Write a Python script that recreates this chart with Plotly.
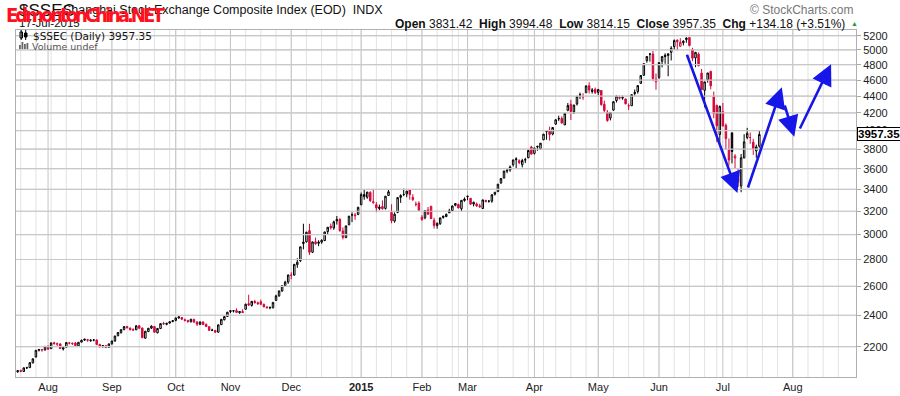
import math
import pandas as pd
import plotly.graph_objects as go

# ---------------- data ----------------
symbol = "$SSEC"
index_name = "Shanghai Stock Exchange Composite Index (EOD)"
exchange = "INDX"
last_date_label = "17-Jul-2015"
first_day = "2014-07-18"
last_calendar_day = "2015-09-04"
cn_holidays = ["2014-09-08", "2014-10-01", "2014-10-02", "2014-10-03", "2014-10-06",
               "2014-10-07", "2015-01-01", "2015-01-02", "2015-02-18", "2015-02-19",
               "2015-02-20", "2015-02-23", "2015-02-24", "2015-04-06", "2015-05-01",
               "2015-06-22"]

opens = [
    2052, 2060, 2054, 2074, 2076, 2104, 2138, 2178, 2180, 2180,
    2200, 2188, 2224, 2215, 2217, 2186, 2197, 2223, 2218, 2222, 2205, 2228, 2240, 2243, 2236, 2241, 2241, 2213, 2200, 2206, 2196,
    2218, 2234, 2268, 2287, 2307, 2326, 2316, 2308, 2305, 2331, 2316, 2252, 2294, 2316, 2326, 2286, 2313, 2346, 2340, 2348, 2358,
    2366, 2382, 2385, 2370, 2365, 2357, 2371, 2355, 2340, 2355, 2341, 2325, 2304, 2301, 2290, 2338, 2370, 2392,
    2424, 2428, 2431, 2416, 2425, 2440, 2478, 2466, 2493, 2484, 2491, 2473, 2454, 2449, 2450, 2500, 2532, 2566, 2605, 2631,
    2681, 2682, 2760, 2790, 2926, 2940, 3033, 2857, 2940, 2928, 2938, 2950, 3025, 3070, 3055, 3115, 3128, 3030, 2975, 3082, 3166, 3160, 3172,
    3258, 3330, 3327, 3371, 3276, 3259, 3224, 3242, 3224, 3343, 3189, 3114, 3190, 3325, 3352, 3357, 3396, 3325, 3260, 3273,
    3148, 3143, 3212, 3245, 3121, 3076, 3091, 3145, 3153, 3186, 3206, 3253, 3260, 3222, 3296,
    3332, 3317, 3264, 3264, 3248, 3224, 3297, 3290, 3290, 3354, 3378, 3462, 3509, 3576, 3587, 3640, 3700, 3680, 3640, 3686, 3710, 3822,
    3755, 3830, 3804, 3899, 3988, 4003, 3962, 4072, 4130, 4136, 4063, 4231, 4301, 4212, 4305, 4417, 4390, 4441, 4528, 4456, 4483,
    4445, 4469, 4303, 4210, 4141, 4233, 4346, 4383, 4384, 4365, 4284, 4284, 4431, 4455, 4558, 4660, 4854, 4943, 4943, 4578,
    4633, 4845, 4927, 4923, 4967, 5046, 5137, 5050, 5101, 5144, 5174, 5004, 4890, 4942, 4689, 4471, 4605, 4711, 4399, 4289, 3956,
    4214, 4058, 3793, 3975, 3707, 3467, 3432, 3707, 3924, 3924, 3874, 3781, 3831.42,
]
highs = [
    2062, 2064, 2076, 2081, 2107, 2130, 2179, 2186, 2186, 2203,
    2209, 2225, 2230, 2225, 2220, 2197, 2227, 2229, 2224, 2228, 2228, 2244, 2248, 2248, 2245, 2247, 2245, 2218, 2210, 2208, 2219,
    2236, 2267, 2290, 2307, 2327, 2330, 2320, 2314, 2333, 2334, 2320, 2298, 2317, 2334, 2330, 2316, 2346, 2357, 2350, 2360, 2367,
    2383, 2391, 2388, 2378, 2370, 2375, 2378, 2361, 2358, 2360, 2345, 2329, 2312, 2304, 2338, 2375, 2393, 2422,
    2434, 2433, 2446, 2428, 2440, 2478, 2540, 2496, 2504, 2492, 2506, 2479, 2462, 2459, 2488, 2540, 2568, 2605, 2640, 2684,
    2703, 2763, 2810, 2900, 3091, 3022, 3091, 2941, 2975, 2953, 2961, 3022, 3062, 3093, 3117, 3158, 3140, 3060, 3074, 3158, 3190, 3185, 3240,
    3370, 3394, 3375, 3382, 3404, 3283, 3260, 3298, 3337, 3400, 3262, 3190, 3327, 3353, 3406, 3384, 3398, 3355, 3286, 3289,
    3165, 3204, 3238, 3245, 3143, 3102, 3142, 3160, 3179, 3222, 3251, 3269, 3269, 3300, 3325,
    3336, 3317, 3286, 3278, 3267, 3302, 3303, 3301, 3356, 3374, 3449, 3508, 3577, 3600, 3632, 3689, 3715, 3694, 3700, 3710, 3795, 3835,
    3817, 3835, 3864, 3962, 4000, 4044, 4035, 4128, 4168, 4160, 4195, 4317, 4356, 4294, 4398, 4444, 4435, 4529, 4572, 4499, 4505,
    4489, 4470, 4346, 4233, 4206, 4335, 4401, 4406, 4406, 4371, 4311, 4419, 4481, 4530, 4658, 4814, 4911, 4959, 4986, 4684,
    4829, 4911, 4953, 4948, 5052, 5147, 5147, 5164, 5136, 5178, 5176, 5029, 4968, 4966, 4744, 4577, 4691, 4720, 4456, 4297, 4287,
    4318, 4080, 3914, 3975, 3748, 3601, 3749, 3960, 4030, 3979, 3910, 3847, 3994.48,
]
lows = [
    2047, 2050, 2052, 2068, 2074, 2100, 2135, 2171, 2170, 2177,
    2180, 2187, 2212, 2205, 2186, 2177, 2195, 2214, 2210, 2205, 2200, 2226, 2235, 2230, 2230, 2233, 2210, 2195, 2195, 2191, 2195,
    2212, 2232, 2264, 2281, 2302, 2313, 2300, 2298, 2304, 2312, 2254, 2250, 2290, 2310, 2288, 2283, 2310, 2338, 2334, 2345, 2354,
    2360, 2377, 2368, 2359, 2350, 2352, 2348, 2330, 2335, 2336, 2324, 2298, 2297, 2285, 2289, 2336, 2366, 2390,
    2414, 2418, 2416, 2410, 2416, 2438, 2462, 2458, 2478, 2470, 2468, 2454, 2444, 2440, 2446, 2498, 2526, 2562, 2596, 2618,
    2651, 2678, 2736, 2780, 2880, 2935, 2835, 2850, 2916, 2905, 2924, 2948, 3000, 3042, 3040, 3084, 3024, 2960, 2970, 3078, 3105, 3125, 3165,
    3254, 3303, 3312, 3285, 3267, 3191, 3209, 3214, 3215, 3340, 3095, 3100, 3183, 3275, 3336, 3326, 3304, 3292, 3243, 3203,
    3116, 3129, 3169, 3130, 3050, 3049, 3082, 3135, 3148, 3186, 3204, 3244, 3226, 3203, 3285,
    3299, 3258, 3243, 3238, 3230, 3223, 3280, 3277, 3276, 3342, 3377, 3450, 3503, 3555, 3569, 3621, 3600, 3645, 3612, 3656, 3706, 3742,
    3743, 3783, 3795, 3895, 3900, 3890, 3948, 4063, 4106, 4078, 4063, 4219, 4119, 4187, 4288, 4364, 4355, 4441, 4432, 4431, 4426,
    4414, 4284, 4206, 4099, 4114, 4224, 4323, 4360, 4356, 4300, 4233, 4283, 4406, 4430, 4552, 4660, 4826, 4840, 4586, 4478,
    4616, 4764, 4812, 4648, 4856, 5000, 4993, 5048, 5062, 5100, 5048, 4846, 4767, 4780, 4476, 4265, 4567, 4483, 4139, 3875, 3848,
    4043, 3795, 3630, 3653, 3601, 3421, 3373, 3707, 3905, 3857, 3740, 3709, 3814.15,
]
closes = [
    2059, 2055, 2075, 2076, 2105, 2127, 2178, 2183, 2182, 2202,
    2186, 2223, 2219, 2218, 2189, 2194, 2225, 2222, 2221, 2207, 2227, 2239, 2246, 2240, 2240, 2241, 2213, 2199, 2207, 2195, 2217,
    2235, 2266, 2288, 2306, 2326, 2319, 2307, 2304, 2331, 2315, 2255, 2296, 2315, 2329, 2290, 2314, 2345, 2343, 2347, 2357, 2364,
    2382, 2389, 2374, 2366, 2359, 2374, 2356, 2341, 2356, 2339, 2326, 2302, 2302, 2290, 2337, 2373, 2391, 2420,
    2430, 2430, 2419, 2425, 2418, 2474, 2469, 2494, 2485, 2478, 2474, 2456, 2451, 2452, 2487, 2532, 2567, 2604, 2630, 2683,
    2680, 2763, 2779, 2900, 2938, 3020, 2856, 2940, 2925, 2938, 2953, 3022, 3061, 3057, 3108, 3128, 3032, 2977, 3073, 3157, 3168, 3166, 3235,
    3351, 3352, 3374, 3294, 3285, 3229, 3236, 3222, 3336, 3377, 3116, 3173, 3323, 3343, 3351, 3383, 3352, 3305, 3262, 3210,
    3128, 3204, 3174, 3136, 3076, 3095, 3142, 3157, 3173, 3203, 3247, 3269, 3229, 3298, 3310,
    3336, 3263, 3280, 3248, 3241, 3302, 3286, 3290, 3349, 3373, 3449, 3503, 3577, 3582, 3617, 3688, 3691, 3661, 3682, 3691, 3786, 3748,
    3810, 3825, 3863, 3961, 3995, 3957, 4034, 4121, 4135, 4084, 4194, 4287, 4217, 4293, 4398, 4414, 4393, 4527, 4476, 4476, 4442,
    4480, 4298, 4229, 4112, 4206, 4333, 4401, 4375, 4378, 4308, 4283, 4418, 4446, 4530, 4658, 4813, 4910, 4941, 4620, 4612,
    4828, 4910, 4910, 4947, 5023, 5131, 5113, 5106, 5121, 5166, 5062, 4887, 4967, 4786, 4478, 4577, 4691, 4527, 4192, 4053, 4277,
    4053, 3912, 3687, 3775, 3727, 3507, 3710, 3877, 3970, 3924, 3805, 3823.17, 3957.35,
]

price_ticks = [2200, 2400, 2600, 2800, 3000, 3200, 3400, 3600, 3800, 4000,
               4200, 4400, 4600, 4800, 5000, 5200]
y_min, y_max = 2023, 5283

# hand-drawn blue arrows: (start trading-day, start price, tip trading-day, tip price)
arrow_paths = [
    (220.0, 4953, 236.8, 3366),
    (240.1, 3403, 251.4, 4508),
    (252.2, 4305, 255.5, 3933),
    (257.1, 4006, 267.6, 4805),
]

# ---------------- trading calendar ----------------
hol = set(pd.to_datetime(cn_holidays))
days = [d for d in pd.bdate_range(first_day, last_calendar_day) if d not in hol]
n = len(closes)
x = list(range(n))
x_min, x_max = -0.55, 275.8

month_vals, month_text, week_vals = [], [], []
for i in range(1, len(days)):
    if i > x_max - 3:
        break
    if days[i].month != days[i - 1].month:
        month_vals.append(i)
        month_text.append("<b>%d</b>" % days[i].year if days[i].month == 1 else days[i].strftime("%b"))
    if days[i].isocalendar()[1] != days[i - 1].isocalendar()[1]:
        week_vals.append(i)

black_idx = [i for i in range(n) if i == 0 or closes[i] >= closes[i - 1]]
red_idx = [i for i in range(n) if i > 0 and closes[i] < closes[i - 1]]

RED = "#d40a3c"
fig = go.Figure()

# horizontal price grid lines (one short line trace per price level, below candles)
for p in price_ticks:
    fig.add_trace(go.Scatter(x=[x_min, x_max], y=[p, p], mode="lines",
                             line=dict(color="#c8c8c8", width=1.2),
                             hoverinfo="skip", showlegend=False))


def candle(idx, col, filled):
    return go.Candlestick(
        x=[x[i] for i in idx], open=[opens[i] for i in idx], high=[highs[i] for i in idx],
        low=[lows[i] for i in idx], close=[closes[i] for i in idx],
        increasing=dict(line=dict(color=col, width=1), fillcolor="white"),
        decreasing=dict(line=dict(color=col, width=1), fillcolor=filled),
        whiskerwidth=0, showlegend=False, hoverinfo="skip")


fig.add_trace(candle(black_idx, "black", "black"))
fig.add_trace(candle(red_idx, RED, RED))

# ---------------- layout ----------------
L, R, T, B = 16, 856, 30, 377
W, H = 900, 396


def px(v):
    return (v - L) / (R - L)


def py(v):
    return (B - v) / (B - T)


# vertical grid lines as shapes below the data
shapes = []
for v in week_vals:
    shapes.append(dict(type="line", xref="x", yref="paper", x0=v, x1=v, y0=0, y1=1,
                       line=dict(color="#e2e2e2", width=1), layer="below"))
for v in month_vals:
    shapes.append(dict(type="line", xref="x", yref="paper", x0=v, x1=v, y0=0, y1=1,
                       line=dict(color="#c4c4c4", width=1), layer="below"))
# horizontal grid also as paper-referenced shapes (pixel position from the log scale)
lo, hi = math.log10(y_min), math.log10(y_max)
for p in price_ticks:
    yp = (math.log10(p) - lo) / (hi - lo)
    shapes.append(dict(type="line", xref="paper", yref="paper", x0=0, x1=1, y0=yp, y1=yp,
                       line=dict(color="#d2d2d2", width=1), layer="below"))

# small legend icons (candles / volume bars)
for (x0, y0, x1, y1, fc) in [(20, 32, 22.5, 38, "white"), (24.5, 33, 27, 37, "black")]:
    shapes.append(dict(type="rect", xref="paper", yref="paper", x0=px(x0), x1=px(x1), y0=py(y1), y1=py(y0),
                       line=dict(color="black", width=1), fillcolor=fc))
for (x0, xx) in [(21.2, 21.2), (25.7, 25.7)]:
    shapes.append(dict(type="line", xref="paper", yref="paper", x0=px(x0), x1=px(xx), y0=py(40), y1=py(30),
                       line=dict(color="black", width=1)))
for (x0, top) in [(19, 45), (21.5, 42), (24, 44), (26.5, 43)]:
    shapes.append(dict(type="rect", xref="paper", yref="paper", x0=px(x0), x1=px(x0 + 1.8), y0=py(49), y1=py(top),
                       line=dict(width=0), fillcolor="#666"))

ann = []
SANS = "Liberation Sans, Arial, sans-serif"
ann.append(dict(x=px(17), y=py(11), text=symbol, font=dict(family=SANS, size=17, color="#111")))
ann.append(dict(x=px(61), y=py(10), text="%s  %s" % (index_name, exchange),
                font=dict(family=SANS, size=12.5, color="#111")))
ann.append(dict(x=px(17), y=py(23), text=last_date_label, font=dict(family=SANS, size=11.5, color="#111")))
ann.append(dict(x=px(4), y=py(15),
                text="<b><span style='letter-spacing:-3px'>EdmontonChina.NET</span></b>",
                font=dict(family="Liberation Sans Narrow, DejaVu Sans Condensed, Arial Narrow, Liberation Sans, sans-serif",
                          size=20, color="#ff1020")))
chg = closes[-1] - closes[-2]
pct = chg / closes[-2] * 100
ohlc_text = ("<b>Open</b> %.2f  <b>High</b> %.2f  <b>Low</b> %.2f  <b>Close</b> %.2f  <b>Chg</b> %+.2f (%+.2f%%)"
             % (opens[-1], highs[-1], lows[-1], closes[-1], chg, pct))
ann.append(dict(x=px(847), y=py(24), text=ohlc_text, xanchor="right", font=dict(family=SANS, size=12, color="#111")))
ann.append(dict(x=px(849), y=py(23), text="▲", font=dict(family=SANS, size=7, color="#2a9a2a")))
ann.append(dict(x=px(856), y=py(10), text="© StockCharts.com", xanchor="right",
                font=dict(family=SANS, size=12, color="#777")))
ann.append(dict(x=px(31), y=py(36), text="%s (Daily) %.2f" % (symbol, closes[-1]),
                font=dict(family="DejaVu Sans, sans-serif", size=10.5, color="#111")))
ann.append(dict(x=px(30), y=py(46), text="Volume undef",
                font=dict(family="DejaVu Sans, sans-serif", size=9.5, color="#555")))
for a in ann:
    a.setdefault("xanchor", "left")
    a.update(xref="paper", yref="paper", yanchor="middle", showarrow=False)

# price tag on the axis
ann.append(dict(x=1, xref="paper", xanchor="left", xshift=1, y=math.log10(closes[-1]), yref="y",
                text="<b>%.2f</b>" % closes[-1], showarrow=False, bgcolor="white",
                bordercolor="black", borderwidth=1, borderpad=0,
                font=dict(family=SANS, size=11.5, color="black")))

for (x0, p0, x1, p1) in arrow_paths:
    ann.append(dict(x=x1, y=math.log10(p1), ax=x0, ay=math.log10(p0), xref="x", yref="y",
                    axref="x", ayref="y", text="", showarrow=True, arrowhead=2, arrowsize=1.6,
                    arrowwidth=2.6, arrowcolor="#1616e8"))

fig.update_layout(
    width=W, height=H, margin=dict(l=L, r=W - R, t=T, b=H - B, autoexpand=False),
    paper_bgcolor="white", plot_bgcolor="white", showlegend=False,
    annotations=ann, shapes=shapes, hovermode=False,
    xaxis=dict(range=[x_min, x_max], tickmode="array", tickvals=month_vals, ticktext=month_text,
               showgrid=False, zeroline=False,
               ticks="", showline=True, linecolor="#b0b0b0", mirror=True,
               tickfont=dict(family=SANS, size=11, color="#222"), rangeslider=dict(visible=False),
               fixedrange=True),
    yaxis=dict(type="log", side="right", range=[lo, hi],
               tickmode="array", tickvals=price_ticks, ticktext=[str(v) for v in price_ticks],
               showgrid=False, zeroline=False,
               ticks="outside", ticklen=4, tickcolor="#aaaaaa", showline=True, linecolor="#b0b0b0",
               mirror=True, tickfont=dict(family=SANS, size=11, color="#222"), automargin=False,
               fixedrange=True),
)

fig.write_html("out.html", post_script="document.body.style.margin='0';",
               config={"displayModeBar": False, "staticPlot": True})
